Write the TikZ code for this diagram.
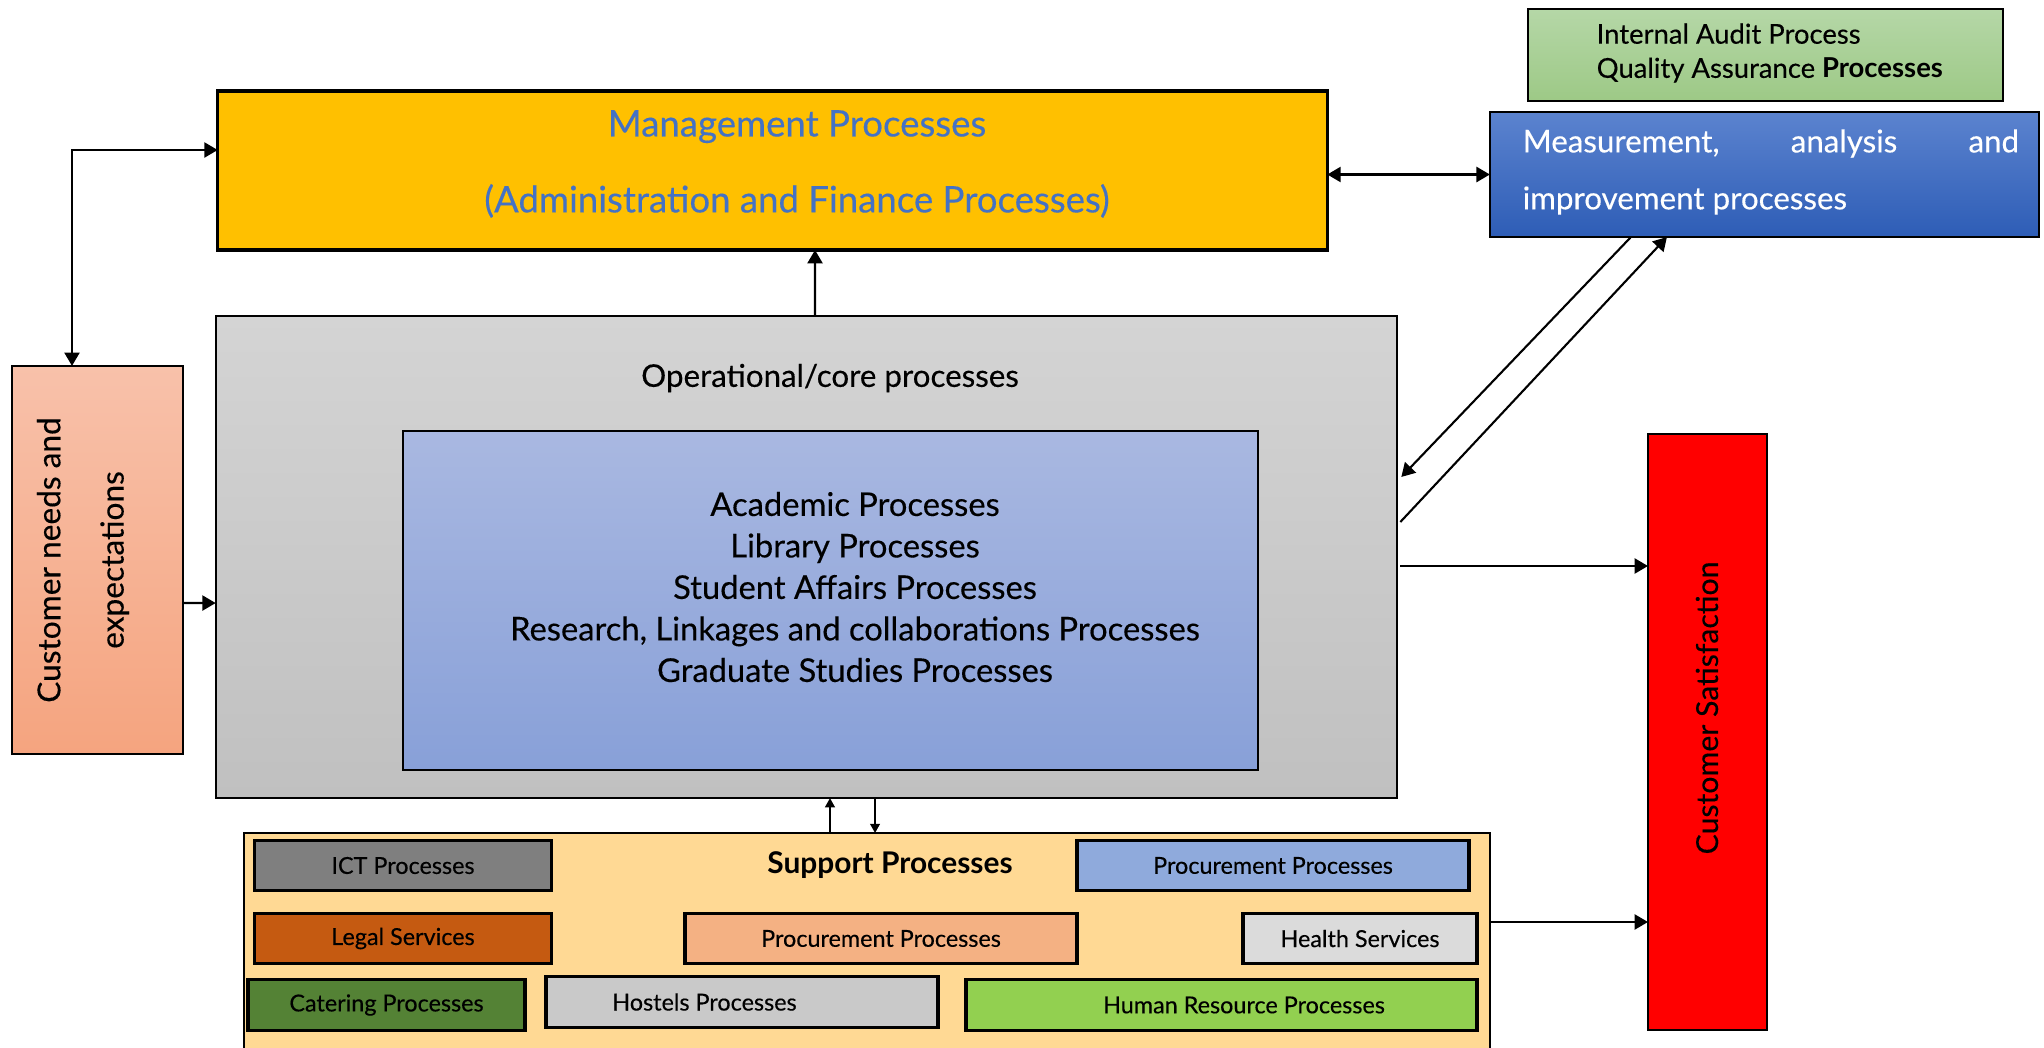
\documentclass[tikz,border=0pt]{standalone}
\usepackage{fontspec}
\setmainfont{Lato}[UprightFeatures={FakeBold=0.3}]
\usetikzlibrary{arrows.meta}

\definecolor{mgmtyellow}{HTML}{FFC000}
\definecolor{mgmtblue}{HTML}{4472C4}
\definecolor{opertop}{HTML}{D4D4D4}
\definecolor{operbot}{HTML}{C0C0C0}
\definecolor{coretop}{HTML}{A9B8E1}
\definecolor{corebot}{HTML}{88A0D8}
\definecolor{needtop}{HTML}{F8C1AA}
\definecolor{needbot}{HTML}{F5A47F}
\definecolor{meastop}{HTML}{5B83CF}
\definecolor{measbot}{HTML}{2E5DB6}
\definecolor{audittop}{HTML}{B5D7A7}
\definecolor{auditbot}{HTML}{9DC986}
\definecolor{supportfill}{HTML}{FFD994}
\definecolor{ictgrey}{HTML}{7F7F7F}
\definecolor{procblue}{HTML}{8FAADC}
\definecolor{legalbrown}{HTML}{C55A11}
\definecolor{procpeach}{HTML}{F4B183}
\definecolor{healthgrey}{HTML}{DBDBDB}
\definecolor{cateringgreen}{HTML}{548235}
\definecolor{hostelgrey}{HTML}{C9C9C9}
\definecolor{hrgreen}{HTML}{92D050}

\tikzset{
  proc/.style={draw, inner sep=0pt, outer sep=0pt, line width=0.5pt},
  subproc/.style={proc, line width=1pt, font=\fontsize{6.65}{8}\selectfont},
  link/.style={line width=0.6pt, -{Triangle[length=3.8pt,width=4.3pt]}},
  twolink/.style={line width=0.6pt, {Triangle[length=3.8pt,width=4.3pt]}-{Triangle[length=3.8pt,width=4.3pt]}},
  smalllink/.style={line width=0.4pt, -{Triangle[length=2.6pt,width=2.8pt]}}
}

\begin{document}
\begin{tikzpicture}[x=0.01cm, y=-0.01cm]
\useasboundingbox (0,0) rectangle (2044,1048);

\node[proc, top color=audittop, bottom color=auditbot, minimum width=4.75cm, minimum height=0.92cm] (audit) at (1765.5,55) {};
\node[anchor=west, align=left, inner sep=0pt, font=\fontsize{7.8}{9.7}\selectfont] (audittext) at (1596,53)
  {Internal Audit Process\\Quality Assurance \textbf{Processes}};

\node[proc, line width=0.7pt, top color=meastop, bottom color=measbot, minimum width=5.49cm, minimum height=1.25cm] (meas) at (1764.5,174.5) {};
\node[anchor=west, inner sep=0pt, text=white, font=\fontsize{8.9}{16.2}\selectfont] (meastext) at (1522,172)
  {\parbox{4.96cm}{Measurement,\hfill analysis\hfill and\\improvement processes}};

\node[proc, line width=1pt, fill=mgmtyellow, minimum width=11.09cm, minimum height=1.59cm] (mgmt) at (772.5,170.5) {};
\node[align=center, inner sep=0pt, text=mgmtblue, font=\fontsize{10.4}{21.6}\selectfont] (mgmttext) at (797,164)
  {Management Processes\\(Administration and Finance Processes)};

\node[proc, top color=opertop, bottom color=operbot, minimum width=11.81cm, minimum height=4.82cm] (oper) at (806.5,557) {};
\node[inner sep=0pt, font=\fontsize{8.9}{10}\selectfont] (opertitle) at (830,378) {Operational/core processes};

\node[proc, top color=coretop, bottom color=corebot, minimum width=8.55cm, minimum height=3.39cm] (core) at (830.5,600.5) {};
\node[align=center, inner sep=0pt, font=\fontsize{9.3}{11.8}\selectfont] (coretext) at (855,587)
  {Academic Processes\\Library Processes\\Student Affairs Processes\\Research, Linkages and collaborations Processes\\Graduate Studies Processes};

\node[proc, top color=needtop, bottom color=needbot, minimum width=1.71cm, minimum height=3.88cm] (needs) at (97.5,560) {};
\node[rotate=90, align=center, inner sep=0pt, font=\fontsize{9}{18}\selectfont] (needstext) at (83,560)
  {Customer needs and\\expectations};

\node[proc, fill=red, minimum width=1.19cm, minimum height=5.96cm] (satis) at (1707.5,732) {};
\node[rotate=90, inner sep=0pt, font=\fontsize{8.6}{10}\selectfont] (satistext) at (1707,708) {Customer Satisfaction};

\node[proc, fill=supportfill, minimum width=12.46cm, minimum height=2.18cm] (support) at (867,942) {};
\node[inner sep=0pt, font=\bfseries\fontsize{8.5}{10}\selectfont] (supporttitle) at (890,865) {Support Processes};

\node[subproc, fill=ictgrey, minimum width=2.97cm, minimum height=0.50cm] (ict) at (403,865.5) {ICT Processes};
\node[subproc, fill=procblue, minimum width=3.92cm, minimum height=0.50cm] (procA) at (1273,865.5) {Procurement Processes};
\node[subproc, fill=legalbrown, minimum width=2.97cm, minimum height=0.50cm] (legal) at (403,938.5) {Legal Services};
\node[subproc, fill=procpeach, minimum width=3.92cm, minimum height=0.50cm] (procB) at (881,938.5) {Procurement Processes};
\node[subproc, fill=healthgrey, minimum width=2.34cm, minimum height=0.50cm] (health) at (1360,938.5) {Health Services};
\node[subproc, fill=cateringgreen, minimum width=2.77cm, minimum height=0.51cm] (catering) at (386.5,1005) {Catering Processes};
\node[subproc, fill=hostelgrey, minimum width=3.92cm, minimum height=0.51cm] (hostels) at (742,1002) {\hspace*{-0.75cm}Hostels Processes};
\node[subproc, fill=hrgreen, minimum width=5.11cm, minimum height=0.51cm] (hr) at (1221.5,1005) {\hspace*{0.45cm}Human Resource Processes};

\coordinate (bend) at (72,150);
\draw[twolink] (needs.north -| bend) |- (mgmt.west |- bend);
\draw[link] ([yshift=-0.43cm]needs.east) -- ([yshift=-0.46cm]oper.west);
\draw[link] ([xshift=0.085cm]oper.north) -- ([xshift=0.425cm]mgmt.south);
\draw[twolink] (mgmt.east |- meas.west) -- (meas.west);
\draw[link] ([xshift=1.41cm]meas.south west) -- ([xshift=0.04cm,yshift=-1.61cm]oper.north east);
\draw[link] ([xshift=0.03cm,yshift=-2.06cm]oper.north east) -- ([xshift=1.77cm]meas.south west);
\draw[link] ([xshift=0.03cm,yshift=-0.09cm]oper.east) coordinate (o1) -- (o1 -| satis.west);
\draw[link] ([yshift=0.2cm]support.east) coordinate (s1) -- (s1 -| satis.west);
\draw[smalllink] ([xshift=-0.37cm]support.north) coordinate (u1) -- (u1 |- oper.south);
\draw[smalllink] ([xshift=0.685cm]oper.south) coordinate (d1) -- (d1 |- support.north);
\end{tikzpicture}
\end{document}
